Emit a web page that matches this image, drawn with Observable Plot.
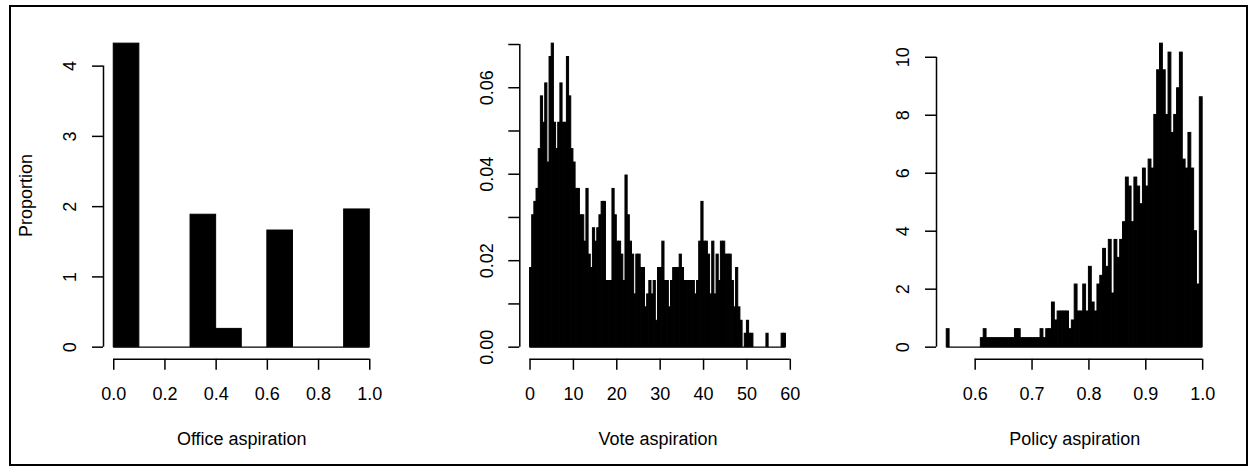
<!DOCTYPE html>
<html><head><meta charset="utf-8">
<script src="https://cdn.jsdelivr.net/npm/d3@7"></script>
<script src="https://cdn.jsdelivr.net/npm/@observablehq/plot@0.6"></script>
<style>
html,body{margin:0;padding:0;background:#fff;}
#fig{position:relative;width:1257px;height:472px;overflow:hidden;font-family:"Liberation Sans",Arial,sans-serif;}
#box{position:absolute;left:9px;top:5px;width:1239px;height:461px;border:2px solid #000;box-sizing:border-box;}
.panel{position:absolute;top:0;}
g[aria-label="title"] text{letter-spacing:0.6px;}
</style></head><body><div id="fig"><div id="box"></div></div>
<script>
// ---- Office aspiration (bins of 0.1) ----
const officeBreaks = [0, 0.1, 0.2, 0.3, 0.4, 0.5, 0.6, 0.7, 0.8, 0.9, 1.0];
const officeDensity = [4.32, 0, 0, 1.885, 0.26, 0, 1.66, 0, 0, 1.96];
const officeXTicks = [0, 0.2, 0.4, 0.6, 0.8, 1.0];
const officeYTicks = [0, 1, 2, 3, 4];
const officeYLabels = [0, 1, 2, 3, 4];

// ---- Vote aspiration (bins of 0.5 starting at 0) ----
const voteBinStart = 0, voteBinWidth = 0.5;
const voteDensity = [
 0.0183, 0.0305, 0.0336, 0.0366, 0.0458, 0.058, 0.0519, 0.061, 0.0427, 0.0671,
 0.0702, 0.0519, 0.0458, 0.0519, 0.061, 0.0519, 0.0519, 0.0671, 0.058, 0.0458,
 0.0427, 0.0366, 0.0366, 0.0305, 0.0305, 0.0244, 0.0366, 0.0214, 0.0183, 0.0275,
 0.0244, 0.0275, 0.0305, 0.0336, 0.0336, 0.0153, 0.0153, 0.0153, 0.0366, 0.0305,
 0.0244, 0.0244, 0.0214, 0.0153, 0.0397, 0.0305, 0.0244, 0.0214, 0.0122, 0.0214,
 0.0214, 0.0183, 0.0183, 0.0092, 0.0122, 0.0153, 0.0122, 0.0153, 0.0061, 0.0183,
 0.0183, 0.0244, 0.0153, 0.0153, 0.0092, 0.0153, 0.0183, 0.0183, 0.0183, 0.0214,
 0.0183, 0.0153, 0.0153, 0.0153, 0.0153, 0.0153, 0.0122, 0.0153, 0.0244, 0.0336,
 0.0244, 0.0244, 0.0214, 0.0122, 0.0244, 0.0122, 0.0214, 0.0153, 0.0244, 0.0244,
 0.0214, 0.0214, 0.0214, 0.0153, 0.0092, 0.0183, 0.0092, 0.0061, 0, 0.0031,
 0.0061, 0.0031, 0.0031, 0, 0, 0, 0, 0, 0, 0.0031,
 0, 0, 0, 0, 0, 0, 0.0031, 0.0031
];
const voteXTicks = [0, 10, 20, 30, 40, 50, 60];
const voteYTicks = [0, 0.01, 0.02, 0.03, 0.04, 0.05, 0.06, 0.07];
const voteYLabels = [0, 0.02, 0.04, 0.06];

// ---- Policy aspiration (bins of 0.005 starting at 0.55) ----
const policyBinStart = 0.55, policyBinWidth = 0.005;
const policyDensity = [
 0.62, 0, 0, 0, 0, 0, 0, 0, 0, 0,
 0, 0, 0.31, 0.62, 0.31, 0.31, 0.31, 0.31, 0.31, 0.31,
 0.31, 0.31, 0.31, 0.31, 0.62, 0.62, 0.31, 0.31, 0.31, 0.31,
 0.31, 0.31, 0.31, 0.62, 0.31, 0.62, 0.62, 1.54, 0.92, 1.23,
 1.23, 1.23, 1.23, 0.62, 0.92, 2.16, 1.23, 1.23, 2.16, 1.23,
 2.77, 1.54, 1.23, 2.16, 2.46, 3.39, 2.77, 3.7, 1.85, 3.7,
 3.08, 3.7, 4.31, 5.85, 5.54, 4.31, 5.85, 5.54, 4.93, 6.16,
 5.54, 6.47, 6.16, 8.01, 9.55, 10.47, 9.55, 8.01, 10.16, 7.39,
 8.01, 8.93, 10.16, 6.47, 6.16, 7.39, 6.16, 4.0, 2.16, 8.62
];
const policyXTicks = [0.6, 0.7, 0.8, 0.9, 1.0];
const policyYTicks = [0, 2, 4, 6, 8, 10];
const policyYLabels = [0, 2, 4, 6, 8, 10];

function binsFromBreaks(breaks, vals) {
  return vals.map((v, i) => ({x1: breaks[i], x2: breaks[i + 1], v}));
}
function binsFromStart(start, w, vals) {
  return vals.map((v, i) => ({x1: start + i * w, x2: start + (i + 1) * w, v}));
}

const H = 472, W = 419, plotTop = 31, plotBottom = 358.8;
const FONT = "'Liberation Sans', Arial, sans-serif";

function panel({left, ml, mr, bins, xTicks, xFmt, yTicks, yLabels, yFmt, title, ylab}) {
  const lo = bins[0].x1, hi = bins[bins.length - 1].x2;
  const ymax = d3.max(bins, d => d.v);
  const xpad = 0.04 * (hi - lo);
  const marks = [
    Plot.rect(bins.filter(d => d.v > 0), {x1: "x1", x2: "x2", y1: 0, y2: "v", fill: "#000", stroke: "#000", strokeWidth: 1}),
    Plot.ruleY([0], {x1: lo, x2: hi, strokeWidth: 1.2}),
    Plot.ruleX([lo - xpad], {y1: yTicks[0], y2: yTicks[yTicks.length - 1], strokeWidth: 1.5}),
    Plot.ruleY([-0.04 * ymax], {x1: xTicks[0], x2: xTicks[xTicks.length - 1], strokeWidth: 1.5}),
    Plot.axisY({ticks: yTicks, tickSize: 11, tickFormat: () => "", strokeWidth: 1.5, label: null}),
    Plot.axisX({ticks: xTicks, tickSize: 11, tickFormat: () => "", strokeWidth: 1.5, label: null}),
    Plot.text(yLabels, {y: d => d, frameAnchor: "left", dx: -33, rotate: -90, text: yFmt,
      textAnchor: "middle", lineAnchor: "middle", fontSize: 18, fill: "#000"}),
    Plot.text(xTicks, {x: d => d, frameAnchor: "bottom", dy: 35, text: xFmt,
      textAnchor: "middle", lineAnchor: "middle", fontSize: 18, fill: "#000"}),
    Plot.text([title], {frameAnchor: "bottom", dy: 80, text: d => d, textAnchor: "middle",
      lineAnchor: "middle", fontSize: 18, fill: "#000", ariaLabel: "title"})
  ];
  if (ylab) marks.push(Plot.text([ylab], {frameAnchor: "left", dx: -77, rotate: -90, text: d => d,
      textAnchor: "middle", lineAnchor: "middle", fontSize: 18, fill: "#000", ariaLabel: "title"}));
  const svg = Plot.plot({
    width: W, height: H,
    marginLeft: ml, marginRight: mr, marginTop: plotTop, marginBottom: H - plotBottom,
    x: {domain: [lo - xpad, hi + xpad]},
    y: {domain: [-0.04 * ymax, 1.04 * ymax]},
    style: {fontFamily: FONT, fontSize: "18px", color: "#000", background: "transparent", overflow: "visible"},
    marks
  });
  svg.classList.add("panel");
  svg.style.left = left + "px";
  document.getElementById("fig").appendChild(svg);
}

const f1 = d3.format(".1f"), f2 = d3.format(".2f"), f0 = d3.format("d");

panel({left: 0, ml: 103, mr: 39.5, bins: binsFromBreaks(officeBreaks, officeDensity),
  xTicks: officeXTicks, xFmt: f1, yTicks: officeYTicks, yLabels: officeYLabels, yFmt: f0,
  title: "Office aspiration", ylab: "Proportion"});
panel({left: 419, ml: 100.3, mr: 42.3, bins: binsFromStart(voteBinStart, voteBinWidth, voteDensity),
  xTicks: voteXTicks, xFmt: f0, yTicks: voteYTicks, yLabels: voteYLabels, yFmt: f2,
  title: "Vote aspiration"});
panel({left: 838, ml: 98, mr: 44.6, bins: binsFromStart(policyBinStart, policyBinWidth, policyDensity),
  xTicks: policyXTicks, xFmt: f1, yTicks: policyYTicks, yLabels: policyYLabels, yFmt: f0,
  title: "Policy aspiration"});
</script></body></html>
